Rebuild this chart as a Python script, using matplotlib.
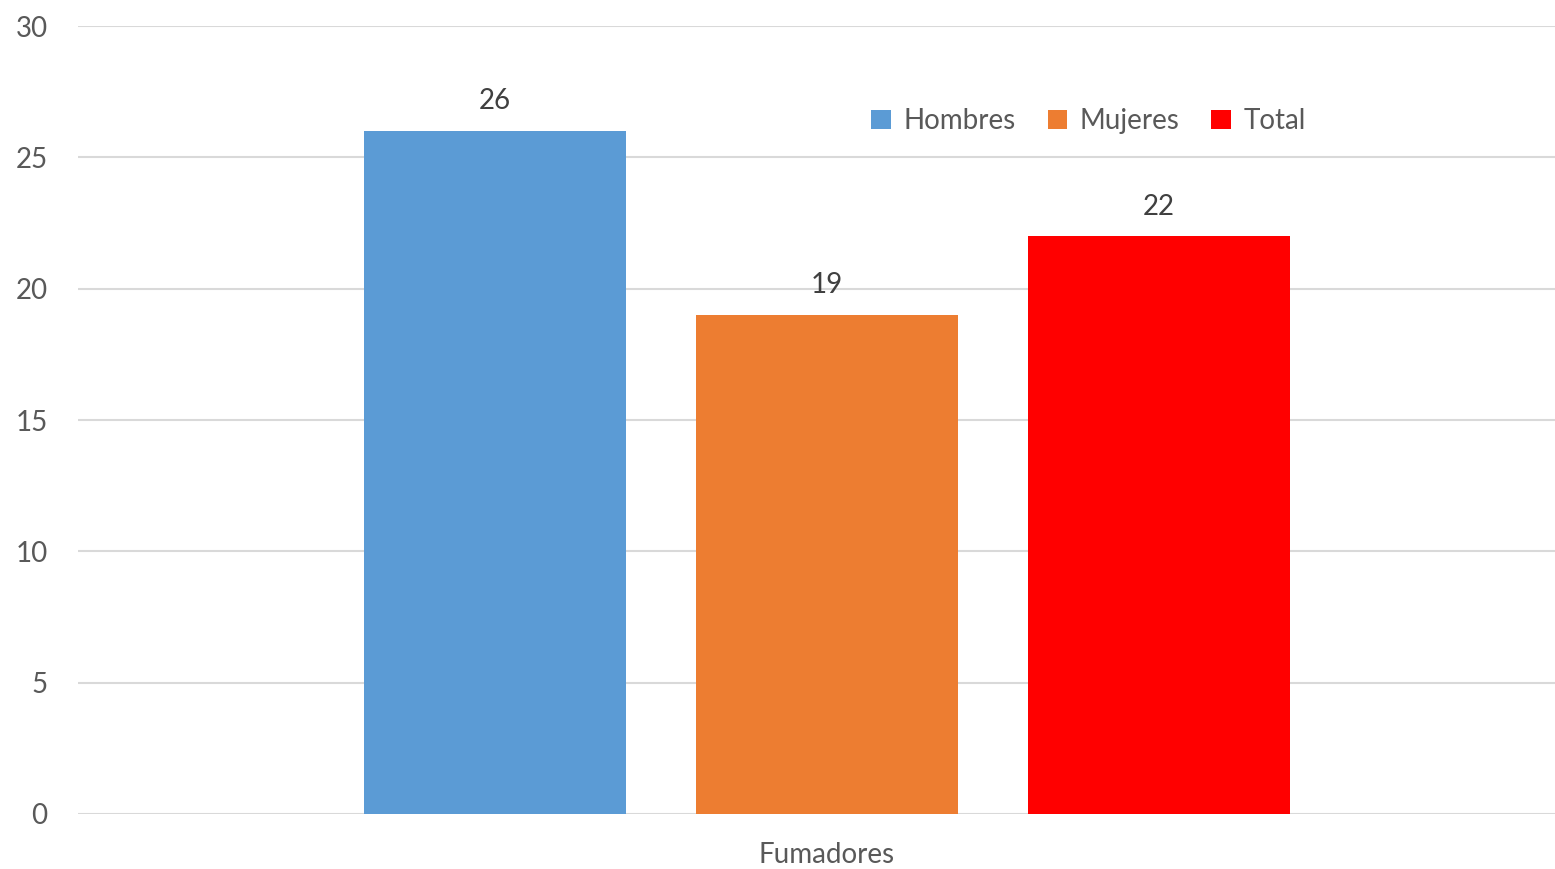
import matplotlib
matplotlib.use("Agg")
import matplotlib.pyplot as plt

categories = ["Fumadores"]
series_names = ["Hombres", "Mujeres", "Total"]
values = [26, 19, 22]
colors = ["#5B9BD5", "#ED7D31", "#FF0000"]
yticks = [0, 5, 10, 15, 20, 25, 30]

plt.rcParams["font.family"] = ["Lato", "DejaVu Sans"]
text_color = "#595959"
label_color = "#404040"
grid_color = "#D9D9D9"
fs = 20

fig = plt.figure(figsize=(15.55, 8.69), dpi=100)
ax = fig.add_axes([0.0502, 0.0633, 0.9498, 0.9067])

width = 0.79
offsets = [-1, 0, 1]
for name, val, col, off in zip(series_names, values, colors, offsets):
    bars = ax.bar(off, val, width=width, color=col, label=name, zorder=3)
    ax.bar_label(bars, labels=[str(val)], padding=12, fontsize=fs, color=label_color)

ax.set_xlim(-2.256, 2.193)
ax.set_ylim(0, 30)
ax.set_yticks(yticks)
ax.set_yticklabels([str(t) for t in yticks], fontsize=fs, color=text_color)
ax.set_xticks([0])
ax.set_xticklabels(categories, fontsize=fs, color=text_color)
ax.tick_params(axis="y", length=0, pad=22)
ax.tick_params(axis="x", length=0, pad=20)

ax.grid(axis="y", color=grid_color, linewidth=1.5, zorder=0)
for s in ax.spines.values():
    s.set_visible(False)

ax.legend(loc="center", bbox_to_anchor=(0.6842, 0.879), ncol=3, frameon=False,
          fontsize=fs, labelcolor=text_color, handlelength=0.7, handleheight=0.7,
          handletextpad=0.45, columnspacing=1.15)

fig.savefig("out.png", dpi=100)
